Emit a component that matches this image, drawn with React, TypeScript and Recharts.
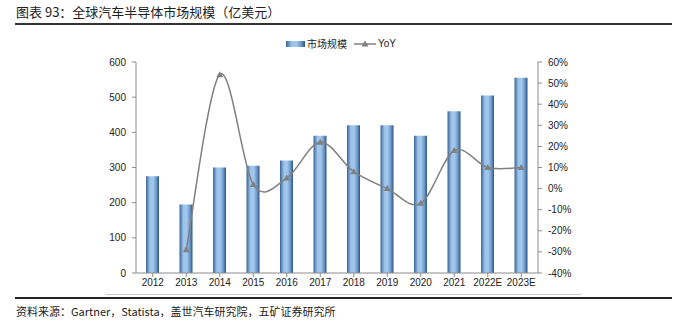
import { Bar, ComposedChart, Line, XAxis, YAxis } from "recharts";

const years = ["2012", "2013", "2014", "2015", "2016", "2017", "2018", "2019", "2020", "2021", "2022E", "2023E"];
const marketSize = [275, 195, 300, 305, 320, 390, 420, 420, 390, 460, 505, 555];
const yoy = [null, -0.29, 0.54, 0.02, 0.05, 0.22, 0.08, 0.0, -0.07, 0.18, 0.1, 0.1];
const leftTicks = [0, 100, 200, 300, 400, 500, 600];
const rightTicks = [-0.4, -0.3, -0.2, -0.1, 0, 0.1, 0.2, 0.3, 0.4, 0.5, 0.6];

const rows = years.map((year, i) => ({ year, size: marketSize[i], yoy: yoy[i] }));

const FONT = "'Liberation Sans', Arial, 'Noto Sans CJK SC', sans-serif";
const CJK = "'Noto Sans CJK SC', 'Liberation Sans', sans-serif";
const AXIS = "#8c8c8c";
const LINE = "#808080";

// Excel 风格的平滑线（Catmull-Rom）
const smoothCurve = (ctx: any) => {
  let pts: [number, number][] = [];
  return {
    areaStart() {},
    areaEnd() {},
    lineStart() {
      pts = [];
    },
    point(x: number, y: number) {
      pts.push([+x, +y]);
    },
    lineEnd() {
      if (!pts.length) return;
      ctx.moveTo(pts[0][0], pts[0][1]);
      for (let i = 0; i < pts.length - 1; i++) {
        const p0 = pts[Math.max(i - 1, 0)];
        const p1 = pts[i];
        const p2 = pts[i + 1];
        const p3 = pts[Math.min(i + 2, pts.length - 1)];
        ctx.bezierCurveTo(
          p1[0] + (p2[0] - p0[0]) / 6,
          p1[1] + (p2[1] - p0[1]) / 6,
          p2[0] - (p3[0] - p1[0]) / 6,
          p2[1] - (p3[1] - p1[1]) / 6,
          p2[0],
          p2[1]
        );
      }
    },
  };
};

const Triangle = ({ cx, cy }: { cx?: number; cy?: number }) => {
  if (cx == null || cy == null || Number.isNaN(cy)) return null;
  return <path d={`M${cx},${cy - 3.5}L${cx + 3.5},${cy + 2.5}L${cx - 3.5},${cy + 2.5}Z`} fill={LINE} />;
};

const LegendBox = () => (
  <div style={{ display: "flex", alignItems: "center", justifyContent: "center", fontFamily: CJK, fontSize: 10, color: "#222" }}>
    <svg width={19} height={6} style={{ marginRight: 2 }}>
      <rect x={0} y={0} width={19} height={6} fill="url(#barGrad)" />
    </svg>
    <span>市场规模</span>
    <svg width={22} height={8} style={{ marginLeft: 7, marginRight: 2 }}>
      <line x1={0} y1={4} x2={22} y2={4} stroke={LINE} strokeWidth={1.5} />
      <path d="M11,0.5L14.5,6.5L7.5,6.5Z" fill={LINE} />
    </svg>
    <span style={{ fontFamily: FONT }}>YoY</span>
  </div>
);

export default function App() {
  return (
    <div style={{ position: "absolute", left: 0, top: 0, width: 682, height: 326, background: "#fff" }}>
      <div style={{ position: "absolute", left: 16, top: 2, fontFamily: CJK, fontSize: 13, color: "#222" }}>
        图表 93：全球汽车半导体市场规模（亿美元）
      </div>
      <div style={{ position: "absolute", left: 15, top: 23, width: 657, height: 2, background: "#333" }} />

      <div style={{ position: "absolute", left: 0, top: 0 }}>
        <ComposedChart width={682} height={300} data={rows} margin={{ top: 62, right: 104, left: 96, bottom: 7 }}>
          <defs>
            <linearGradient id="barGrad" x1="0" y1="0" x2="1" y2="0">
              <stop offset="0" stopColor="#3a6494" />
              <stop offset="0.3" stopColor="#9cc3ea" />
              <stop offset="0.55" stopColor="#a3c8ee" />
              <stop offset="0.8" stopColor="#6c97c6" />
              <stop offset="1" stopColor="#2c5483" />
            </linearGradient>
          </defs>
          <XAxis
            dataKey="year"
            height={20}
            stroke={AXIS}
            tickSize={4}
            tickMargin={2}
            tick={{ fill: "#222", fontSize: 10, fontFamily: FONT }}
            interval={0}
          />
          <YAxis
            yAxisId="left"
            width={40}
            domain={[0, 600]}
            ticks={leftTicks}
            stroke={AXIS}
            tickSize={4}
            tickMargin={6}
            tick={{ fill: "#222", fontSize: 10, fontFamily: FONT }}
          />
          <YAxis
            yAxisId="right"
            orientation="right"
            width={40}
            domain={[-0.4, 0.6]}
            ticks={rightTicks}
            stroke={AXIS}
            tickSize={4}
            tickMargin={6}
            tickFormatter={(v: number) => `${Math.round(v * 100)}%`}
            tick={{ fill: "#222", fontSize: 10, fontFamily: FONT }}
          />
          <Bar yAxisId="left" dataKey="size" name="市场规模" fill="url(#barGrad)" barSize={13} isAnimationActive={false} />
          <Line
            yAxisId="right"
            dataKey="yoy"
            name="YoY"
            type={smoothCurve as any}
            stroke={LINE}
            strokeWidth={1.5}
            dot={<Triangle />}
            activeDot={false}
            isAnimationActive={false}
          />
        </ComposedChart>
      </div>

      <div style={{ position: "absolute", left: 0, top: 36, width: 682 }}>
        <LegendBox />
      </div>

      <div style={{ position: "absolute", left: 106, top: 294, width: 475, height: 1, background: "#c8c8c8" }} />
      <div style={{ position: "absolute", left: 15, top: 297, width: 657, height: 2, background: "#222" }} />
      <div style={{ position: "absolute", left: 16, top: 303, fontFamily: CJK, fontSize: 11, color: "#222" }}>
        资料来源：Gartner，Statista，盖世汽车研究院，五矿证券研究所
      </div>
    </div>
  );
}
